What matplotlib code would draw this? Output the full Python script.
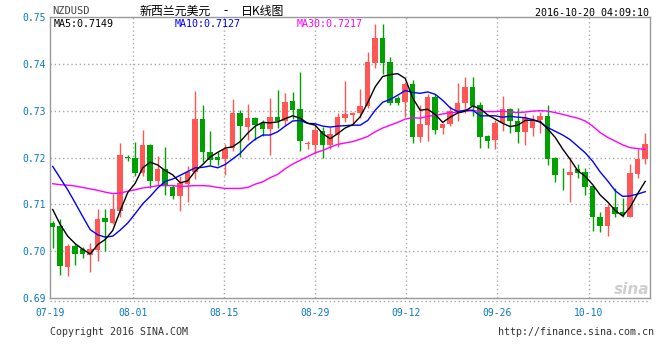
import numpy as np
import matplotlib
matplotlib.use("Agg")
import matplotlib.pyplot as plt

# daily candles, NZDUSD, 07-19 .. 10-20
opens = [0.7060, 0.7054, 0.6967, 0.7011, 0.7005, 0.6992, 0.7003, 0.7071, 0.7060, 0.7085,
         0.7200, 0.7199, 0.7167, 0.7227, 0.7150, 0.7175, 0.7138, 0.7118, 0.7144, 0.7170,
         0.7282, 0.7211, 0.7201, 0.7197, 0.7221, 0.7294, 0.7265, 0.7284, 0.7274, 0.7261,
         0.7286, 0.7278, 0.7321, 0.7303, 0.7228, 0.7227, 0.7257, 0.7227, 0.7248, 0.7284,
         0.7291, 0.7294, 0.7309, 0.7401, 0.7456, 0.7403, 0.7326, 0.7319, 0.7356, 0.7243,
         0.7270, 0.7330, 0.7262, 0.7271, 0.7298, 0.7316, 0.7350, 0.7313, 0.7246, 0.7238,
         0.7273, 0.7303, 0.7278, 0.7255, 0.7264, 0.7280, 0.7289, 0.7199, 0.7163, 0.7162,
         0.7175, 0.7170, 0.7140, 0.7072, 0.7053, 0.7094, 0.7084, 0.7074, 0.7165, 0.7197]
highs = [0.7064, 0.7069, 0.7015, 0.7015, 0.7009, 0.7018, 0.7089, 0.7089, 0.7122, 0.7230,
         0.7206, 0.7233, 0.7259, 0.7228, 0.7204, 0.7223, 0.7142, 0.7160, 0.7182, 0.7342,
         0.7312, 0.7257, 0.7211, 0.7228, 0.7325, 0.7301, 0.7314, 0.7287, 0.7280, 0.7328,
         0.7345, 0.7337, 0.7339, 0.7382, 0.7235, 0.7270, 0.7265, 0.7266, 0.7296, 0.7363,
         0.7297, 0.7346, 0.7426, 0.7486, 0.7484, 0.7415, 0.7332, 0.7362, 0.7365, 0.7313,
         0.7335, 0.7335, 0.7273, 0.7311, 0.7360, 0.7371, 0.7371, 0.7318, 0.7249, 0.7280,
         0.7332, 0.7306, 0.7305, 0.7296, 0.7291, 0.7298, 0.7313, 0.7202, 0.7177, 0.7202,
         0.7186, 0.7177, 0.7140, 0.7084, 0.7101, 0.7135, 0.7113, 0.7186, 0.7218, 0.7252]
lows = [0.7006, 0.6950, 0.6948, 0.6970, 0.6986, 0.6956, 0.6980, 0.7001, 0.7057, 0.7074,
        0.7193, 0.7160, 0.7160, 0.7135, 0.7142, 0.7119, 0.7112, 0.7085, 0.7106, 0.7155,
        0.7190, 0.7183, 0.7183, 0.7163, 0.7213, 0.7202, 0.7238, 0.7238, 0.7245, 0.7206,
        0.7262, 0.7268, 0.7282, 0.7214, 0.7218, 0.7207, 0.7200, 0.7218, 0.7223, 0.7275,
        0.7271, 0.7284, 0.7306, 0.7391, 0.7379, 0.7312, 0.7313, 0.7286, 0.7230, 0.7233,
        0.7235, 0.7250, 0.7250, 0.7268, 0.7277, 0.7294, 0.7289, 0.7220, 0.7220, 0.7218,
        0.7257, 0.7252, 0.7230, 0.7226, 0.7245, 0.7252, 0.7183, 0.7148, 0.7131, 0.7106,
        0.7156, 0.7119, 0.7044, 0.7041, 0.7032, 0.7074, 0.7074, 0.7072, 0.7157, 0.7186]
closes = [0.7052, 0.6969, 0.7011, 0.6994, 0.6993, 0.7005, 0.7069, 0.7062, 0.7089, 0.7206,
          0.7199, 0.7167, 0.7227, 0.7150, 0.7176, 0.7142, 0.7118, 0.7145, 0.7170, 0.7282,
          0.7211, 0.7195, 0.7195, 0.7218, 0.7294, 0.7267, 0.7284, 0.7270, 0.7261, 0.7286,
          0.7278, 0.7318, 0.7301, 0.7235, 0.7231, 0.7259, 0.7227, 0.7250, 0.7286, 0.7292,
          0.7296, 0.7309, 0.7403, 0.7456, 0.7401, 0.7317, 0.7316, 0.7356, 0.7243, 0.7271,
          0.7330, 0.7259, 0.7271, 0.7300, 0.7316, 0.7350, 0.7311, 0.7243, 0.7235, 0.7273,
          0.7303, 0.7277, 0.7255, 0.7285, 0.7280, 0.7289, 0.7197, 0.7162, 0.7162, 0.7170,
          0.7167, 0.7138, 0.7072, 0.7053, 0.7094, 0.7079, 0.7078, 0.7167, 0.7197, 0.7228]

# moving-average lines as shown on the chart
ma5 = [0.7089, 0.7057, 0.7032, 0.7016, 0.7004, 0.6994, 0.7014, 0.7025, 0.7044, 0.7086,
       0.7125, 0.7145, 0.7178, 0.7190, 0.7184, 0.7172, 0.7163, 0.7146, 0.7150, 0.7171,
       0.7185, 0.7201, 0.7211, 0.7220, 0.7223, 0.7234, 0.7252, 0.7267, 0.7275, 0.7274,
       0.7276, 0.7283, 0.7289, 0.7284, 0.7273, 0.7269, 0.7251, 0.7240, 0.7251, 0.7263,
       0.7270, 0.7287, 0.7317, 0.7351, 0.7373, 0.7377, 0.7379, 0.7369, 0.7327, 0.7301,
       0.7303, 0.7292, 0.7275, 0.7286, 0.7295, 0.7299, 0.7310, 0.7304, 0.7291, 0.7282,
       0.7273, 0.7266, 0.7269, 0.7279, 0.7280, 0.7277, 0.7261, 0.7243, 0.7218, 0.7196,
       0.7172, 0.7160, 0.7142, 0.7120, 0.7105, 0.7087, 0.7075, 0.7094, 0.7123, 0.7149]
ma10 = [0.7181, 0.7156, 0.7131, 0.7103, 0.7074, 0.7046, 0.7035, 0.7030, 0.7032, 0.7045,
        0.7060, 0.7080, 0.7101, 0.7117, 0.7135, 0.7149, 0.7154, 0.7162, 0.7170, 0.7178,
        0.7179, 0.7182, 0.7178, 0.7185, 0.7197, 0.7209, 0.7226, 0.7239, 0.7248, 0.7248,
        0.7255, 0.7267, 0.7278, 0.7279, 0.7273, 0.7272, 0.7267, 0.7265, 0.7267, 0.7268,
        0.7269, 0.7269, 0.7279, 0.7301, 0.7318, 0.7324, 0.7333, 0.7343, 0.7339, 0.7337,
        0.7340, 0.7335, 0.7322, 0.7306, 0.7298, 0.7301, 0.7301, 0.7289, 0.7289, 0.7289,
        0.7286, 0.7288, 0.7286, 0.7285, 0.7281, 0.7275, 0.7264, 0.7256, 0.7248, 0.7238,
        0.7224, 0.7210, 0.7192, 0.7169, 0.7150, 0.7129, 0.7117, 0.7118, 0.7122, 0.7127]
ma30 = [0.7144, 0.7142, 0.7141, 0.7139, 0.7136, 0.7133, 0.7130, 0.7126, 0.7123, 0.7124,
        0.7128, 0.7131, 0.7135, 0.7137, 0.7140, 0.7140, 0.7140, 0.7138, 0.7139, 0.7140,
        0.7140, 0.7139, 0.7136, 0.7134, 0.7134, 0.7134, 0.7136, 0.7143, 0.7148, 0.7157,
        0.7164, 0.7176, 0.7186, 0.7194, 0.7202, 0.7210, 0.7215, 0.7222, 0.7228, 0.7231,
        0.7234, 0.7239, 0.7245, 0.7255, 0.7263, 0.7269, 0.7275, 0.7282, 0.7285, 0.7284,
        0.7288, 0.7290, 0.7293, 0.7296, 0.7296, 0.7299, 0.7300, 0.7299, 0.7298, 0.7298,
        0.7299, 0.7297, 0.7296, 0.7297, 0.7299, 0.7300, 0.7299, 0.7296, 0.7292, 0.7288,
        0.7284, 0.7278, 0.7267, 0.7253, 0.7243, 0.7235, 0.7227, 0.7221, 0.7219, 0.7217]

tick_labels = ["07-19", "08-01", "08-15", "08-29", "09-12", "09-26", "10-10"]
y_ticks = [0.69, 0.70, 0.71, 0.72, 0.73, 0.74, 0.75]

W, H = 660, 360
fig = plt.figure(figsize=(6.6, 3.6), dpi=100)
ax = fig.add_axes([50 / W, 1 - 298 / H, 600 / W, 281 / H])

x = np.arange(len(closes))
o = np.array(opens)
cl = np.array(closes)
cols = np.where(cl >= o, "#ff5656", "#00a000")
ax.vlines(x, lows, highs, colors=cols, linewidth=1, zorder=3)
body = np.maximum(np.abs(cl - o), 0.00003)
ax.bar(x, body, bottom=np.minimum(o, cl), width=0.74, color=cols, linewidth=0, zorder=4)

ax.plot(x, ma30, color="#ff00ff", lw=1, zorder=5)
ax.plot(x, ma10, color="#0000ff", lw=1, zorder=5)
ax.plot(x, ma5, color="#000000", lw=1, zorder=5)

xl = (-0.36, len(closes) - 0.36)
ax.set_xlim(*xl)
ax.set_ylim(0.69, 0.75)
tick_pos = [xl[0], 10.75, 22.9, 35.0, 47.15, 59.3, 71.45]
ax.set_xticks(tick_pos)
ax.set_xticklabels(tick_labels)
ax.set_yticks(y_ticks)
ax.set_yticklabels([f"{v:.2f}" for v in y_ticks])
for t in tick_pos[1:]:
    ax.axvline(t, color="#aaaaaa", lw=1, ls=(0, (1, 2)), zorder=1)
for v in y_ticks[1:-1]:
    ax.axhline(v, color="#aaaaaa", lw=1, ls=(0, (1, 2)), zorder=1)

mono = "DejaVu Sans Mono"
ax.tick_params(length=0, labelsize=7, labelcolor="#0a78c8")
ax.tick_params(axis="x", pad=7)
ax.tick_params(axis="y", pad=3)
for lab in ax.get_xticklabels() + ax.get_yticklabels():
    lab.set_family(mono)
for s in ax.spines.values():
    s.set_color("#999999")
    s.set_linewidth(1)

def px(xp, yp):
    # pixel position -> figure fraction
    return xp / W, 1 - yp / H

fig.add_artist(plt.Line2D([50 / W, 650 / W], [1 - 301 / H] * 2, color="#aaaaaa", lw=1, ls=(0, (1, 2))))

fig.text(*px(52, 11), "NZDUSD", family=mono, fontsize=7.5, color="#444444", va="center")
cjk = ["Noto Sans CJK SC", "DejaVu Sans"]
fig.text(*px(140, 11), "新西兰元美元", family=cjk, fontsize=8.6, color="black", va="center")
fig.text(*px(226, 11), "-", family=cjk, fontsize=8.6, color="black", va="center", ha="center")
fig.text(*px(241, 11), "日K线图", family=cjk, fontsize=8.6, color="black", va="center")
fig.text(*px(649, 12.5), "2016-10-20 04:09:10", family=mono, fontsize=7.2, color="black",
         va="center", ha="right")

fig.text(*px(54, 24), "MA5:0.7149", family=mono, fontsize=7.2, color="black", va="center")
fig.text(*px(175, 24), "MA10:0.7127", family=mono, fontsize=7.2, color="#0000ff", va="center")
fig.text(*px(297, 24), "MA30:0.7217", family=mono, fontsize=7.2, color="#ff00ff", va="center")

fig.text(*px(50, 332), "Copyright 2016 SINA.COM", family=mono, fontsize=7.2, color="#333333", va="center")
fig.text(*px(654, 332), "http://finance.sina.com.cn", family=mono, fontsize=7.2, color="#333333",
         va="center", ha="right")

# watermark
fig.text(*px(632, 290), "sina", fontsize=11, fontweight="bold", style="italic", color="#cfcfcf",
         va="center", ha="center", zorder=0)
fig.add_artist(plt.Circle(px(628, 279), 4 / W, color="#f6b8b8", zorder=0))

fig.savefig("out.png", dpi=100)
